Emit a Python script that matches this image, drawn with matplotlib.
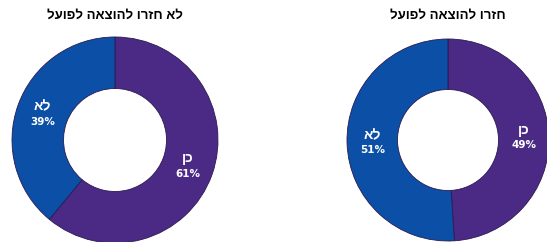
import numpy as np
import matplotlib
matplotlib.use("Agg")
import matplotlib.pyplot as plt

# data (logical Hebrew order; reversed for display since matplotlib has no bidi)
TITLES = ["לא חזרו להוצאה לפועל", "חזרו להוצאה לפועל"]
LABELS = ["כן", "לא"]
VALUES_LEFT = [61, 39]
VALUES_RIGHT = [49, 51]

COLORS = ["#4b2a85", "#0b4fa6"]


def vis(s):
    # visual order for right-to-left text
    return s[::-1]


def donut(fig, cx, cy, r, values, title):
    W, H = 547, 242
    ax = fig.add_axes([(cx - r) / W, (H - cy - r) / H, 2 * r / W, 2 * r / H])
    wedges, _ = ax.pie(
        values, colors=COLORS, startangle=90, counterclock=False,
        radius=1, wedgeprops=dict(width=0.5, edgecolor="#2a1a50", linewidth=0.6))
    total = sum(values)
    for w, lab, v in zip(wedges, LABELS, values):
        ang = np.deg2rad((w.theta1 + w.theta2) / 2)
        x, y = 0.75 * np.cos(ang), 0.75 * np.sin(ang)
        ax.text(x, y + 0.075, vis(lab), ha="center", va="center", color="white",
                fontsize=10, fontweight="bold", family="Liberation Sans")
        ax.text(x, y - 0.075, f"{100 * v / total:.0f}%", ha="center", va="center",
                color="white", fontsize=7.5, fontweight="bold", family="DejaVu Sans")
    ax.set_xlim(-1, 1)
    ax.set_ylim(-1, 1)
    ax.set_aspect("equal")
    ax.axis("off")
    fig.text(cx / W, 1 - 16 / H, vis(title), ha="center", va="center",
             fontsize=9.5, fontweight="bold", family="Liberation Sans")


fig = plt.figure(figsize=(5.47, 2.42), dpi=100)
donut(fig, 115, 140, 103, VALUES_LEFT, TITLES[0])
donut(fig, 448, 140, 101, VALUES_RIGHT, TITLES[1])
fig.savefig("out.png", dpi=100)
